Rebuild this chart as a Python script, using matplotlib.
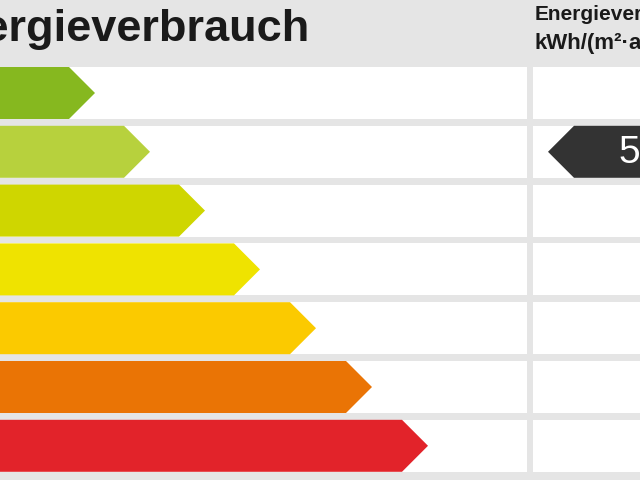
import matplotlib.pyplot as plt
from matplotlib.patches import Polygon, Rectangle

plt.rcParams['font.family'] = ['Liberation Sans', 'DejaVu Sans']

# energy classes: arrow tip x (px) and colour, top to bottom
class_tips = [95, 150, 205, 260, 316, 372, 428]
class_colors = ['#86b81f', '#b7d13d', '#cfd600', '#efe300', '#fbca00', '#ea7405', '#e2232a']
marker_row = 1
marker_label = '5'

row_top0 = 67
row_h = 52
row_step = 58.8

fig = plt.figure(figsize=(6.4, 4.8), dpi=100)
ax = fig.add_axes([0, 0, 1, 1])
ax.set_xlim(0, 640)
ax.set_ylim(480, 0)
ax.axis('off')
fig.patch.set_facecolor('#e5e5e5')

ax.text(309, 30, 'Energieverbrauch', ha='right', va='center', fontsize=32.5, fontweight='bold', color='#1a1a1a')
ax.text(535, 14, 'Energieverbrauch', ha='left', va='center', fontsize=15, fontweight='bold', color='#1a1a1a')
ax.text(535, 44, 'kWh/(m²·a)', ha='left', va='center', fontsize=16, fontweight='bold', color='#1a1a1a')

for i, (tip, col) in enumerate(zip(class_tips, class_colors)):
    top = row_top0 + i * row_step
    bot = top + row_h
    ax.add_patch(Rectangle((0, top), 527, row_h, color='white', lw=0))
    ax.add_patch(Rectangle((533, top), 120, row_h, color='white', lw=0))
    mid = (top + bot) / 2
    ax.add_patch(Polygon([(-5, top), (tip - 26, top), (tip, mid), (tip - 26, bot), (-5, bot)],
                         closed=True, color=col, lw=0))
    if i == marker_row:
        ax.add_patch(Polygon([(700, top), (574, top), (548, mid), (574, bot), (700, bot)],
                             closed=True, color='#333333', lw=0))
        ax.text(618, mid + 1, marker_label, ha='left', va='center', fontsize=28, color='white')

fig.savefig('out.png', dpi=100, facecolor=fig.get_facecolor())
